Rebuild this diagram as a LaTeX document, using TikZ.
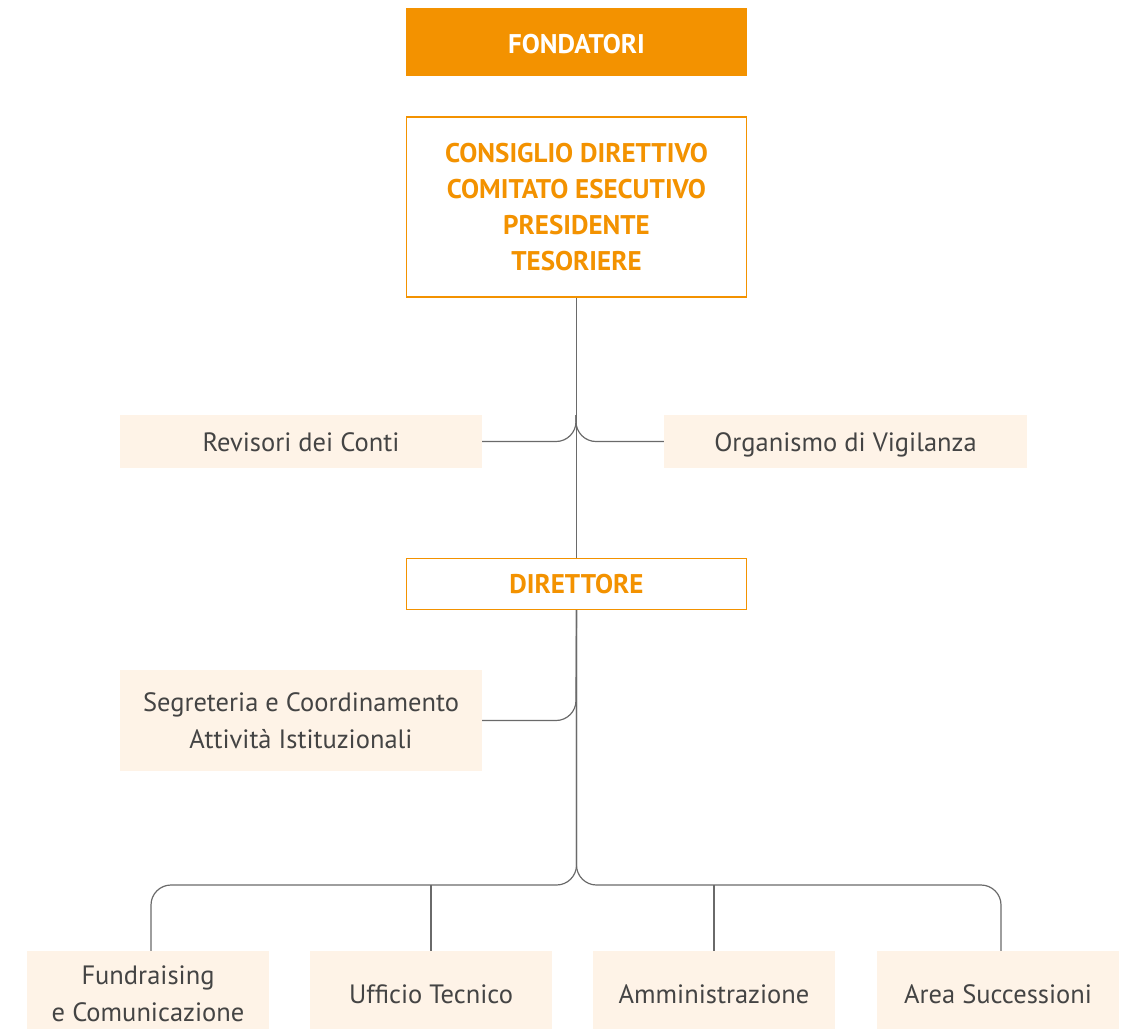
\documentclass[tikz,border=0pt]{standalone}
\usepackage{fontspec}
\setmainfont{PT Sans}
\definecolor{org}{HTML}{F39200}
\definecolor{pale}{HTML}{FEF3E7}
\definecolor{txt}{HTML}{444444}
\definecolor{ln}{HTML}{6A6A6A}
\begin{document}
\begin{tikzpicture}[x=1pt,y=-1pt,
  topbox/.style={fill=org,text=white,font=\fontsize{27}{34}\selectfont\bfseries,minimum width=341pt,align=center,inner sep=0pt},
  obox/.style={draw=org,line width=1.3pt,fill=white,text=org,font=\fontsize{27}{36}\selectfont\bfseries,minimum width=340pt,align=center,inner sep=0pt},
  pbox/.style={fill=pale,text=txt,font=\fontsize{26.5}{37}\selectfont,align=center,inner sep=0pt},
  oneline/.style={text height=21pt,text depth=2pt},
  conn/.style={draw=ln,line width=1.2pt},
  rc/.style={conn,rounded corners=20pt}]
\useasboundingbox (0,0) rectangle (1126,1028);
\node[topbox,text height=23pt,text depth=0pt,minimum height=68pt] (fond) at (576.5,42) {FONDATORI};
\node[obox,minimum height=180pt] (cons) at (576.5,207) {CONSIGLIO DIRETTIVO\\COMITATO ESECUTIVO\\PRESIDENTE\\TESORIERE};
\node[pbox,oneline,minimum width=362pt,minimum height=53pt] (rev) at (301,441.5) {Revisori dei Conti};
\node[pbox,oneline,minimum width=363pt,minimum height=53pt] (odv) at (845.5,441.5) {Organismo di Vigilanza};
\node[obox,text height=19pt,text depth=0pt,minimum height=51pt] (dir) at (576.5,584) {DIRETTORE};
\node[pbox,minimum width=362pt,minimum height=101pt] (seg) at (301,720.5) {Segreteria e Coordinamento\\Attività Istituzionali};
\node[pbox,minimum width=242pt,minimum height=85pt] (fund) at (148,993.5) {Fundraising\\e Comunicazione};
\node[pbox,oneline,minimum width=242pt,minimum height=85pt] (uff) at (431,993.5) {Ufficio Tecnico};
\node[pbox,oneline,minimum width=242pt,minimum height=85pt] (amm) at (714,993.5) {Amministrazione};
\node[pbox,oneline,minimum width=242pt,minimum height=85pt] (area) at (998,993.5) {Area Successioni};
\coordinate (j1) at (576,415);
\coordinate (j2) at (576,692);
\coordinate (hb) at (0,885);
\draw[conn] (cons.south) -- (dir.north);
\draw[rc] (rev.east) -| (j1);
\draw[rc] (odv.west) -| (j1);
\draw[rc] (seg.east) -| (j2);
\draw[conn] (dir.south) -- (j2);
\draw[rc] (dir.south) |- ([xshift=3pt]hb -| fund.north) -- ([xshift=3pt]fund.north);
\draw[rc] (dir.south) |- ([xshift=3pt]hb -| area.north) -- ([xshift=3pt]area.north);
\draw[conn] (hb -| uff.north) -- (uff.north);
\draw[conn] (hb -| amm.north) -- (amm.north);
\end{tikzpicture}
\end{document}
